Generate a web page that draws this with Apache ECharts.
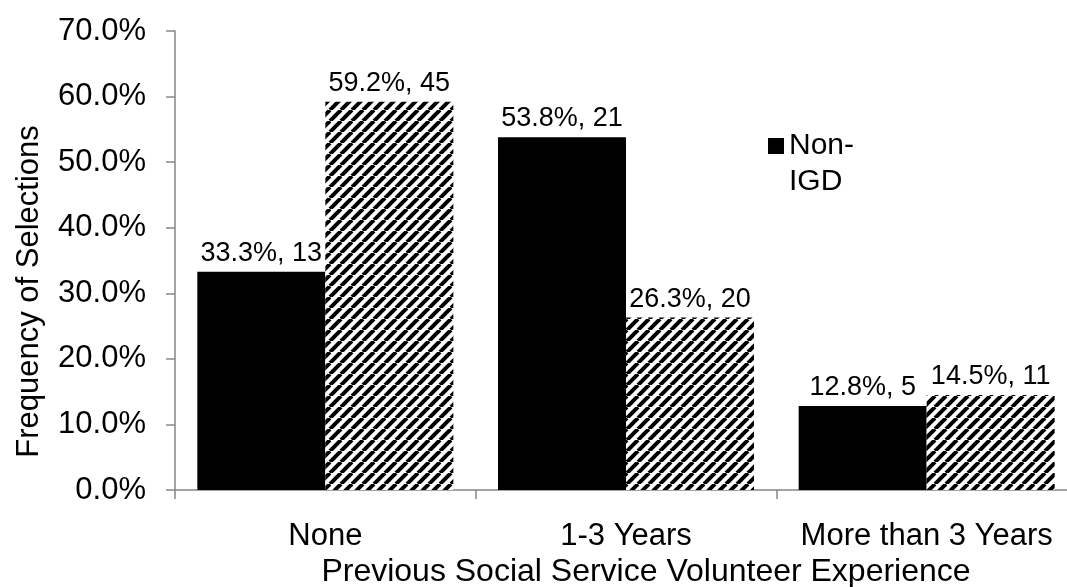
<!DOCTYPE html>
<html>
<head>
<meta charset="utf-8">
<script src="https://cdn.jsdelivr.net/npm/echarts@6/dist/echarts.min.js"></script>
<style>
  html, body { margin: 0; padding: 0; background: #fff; }
  #chart { width: 1067px; height: 587px; }
</style>
</head>
<body>
<div id="chart"></div>
<script>
// data
const categories = ['None', '1-3 Years', 'More than 3 Years']
const nonIgdPct = [33.3, 53.8, 12.8]
const nonIgdCount = [13, 21, 5]
const igdPct = [59.2, 26.3, 14.5]
const igdCount = [45, 20, 11]
const yTicks = [0, 10, 20, 30, 40, 50, 60, 70]

// diagonal hatch tile for the second series
function makeHatch() {
  const s = 11
  const c = document.createElement('canvas')
  c.width = s
  c.height = s
  const ctx = c.getContext('2d')
  ctx.fillStyle = '#fff'
  ctx.fillRect(0, 0, s, s)
  ctx.strokeStyle = '#000'
  ctx.lineWidth = 4
  ;[-s, 0, s].forEach(function (o) {
    ctx.beginPath()
    ctx.moveTo(o, s)
    ctx.lineTo(o + s, 0)
    ctx.stroke()
  })
  return c
}

const font = 'Liberation Sans, Arial, sans-serif'
const axisColor = '#868686'

const chart = echarts.init(document.getElementById('chart'))
const option = {
  animation: false,
  textStyle: { fontFamily: font, color: '#000' },
  // plot area runs past the right edge like the original crop
  grid: { left: 175, right: -10, top: 31, bottom: 97, containLabel: false, outerBoundsMode: 'none' },
  legend: {
    data: ['Non-IGD'],
    left: 768,
    top: 128,
    padding: 0,
    itemWidth: 16,
    itemHeight: 52,
    itemGap: 5,
    // square sits on the first text line
    icon: 'path://M0 0H16V16H0Z M0 51.9H0.1V52H0Z',
    formatter: function () { return 'Non-\nIGD' },
    textStyle: { fontSize: 30, lineHeight: 36, color: '#000', fontFamily: font }
  },
  xAxis: {
    type: 'category',
    data: categories,
    name: 'Previous Social Service Volunteer Experience',
    nameLocation: 'middle',
    nameGap: 66,
    nameMoveOverlap: false,
    nameTextStyle: { fontSize: 32, color: '#000', padding: [0, 0, 0, 40] },
    axisLine: { lineStyle: { color: axisColor, width: 1.5 } },
    axisTick: { show: true, length: 9, lineStyle: { color: axisColor, width: 1.5 } },
    axisLabel: { fontSize: 31, color: '#000', margin: 31, interval: 0, hideOverlap: false }
  },
  yAxis: {
    type: 'value',
    min: yTicks[0],
    max: yTicks[yTicks.length - 1],
    interval: 10,
    name: 'Frequency of Selections',
    nameLocation: 'middle',
    nameGap: 130,
    nameMoveOverlap: false,
    nameRotate: 90,
    nameTextStyle: { fontSize: 31, color: '#000', padding: [0, 62, 0, 0] },
    axisLine: { show: true, lineStyle: { color: axisColor, width: 1.5 } },
    axisTick: { show: true, length: 9, lineStyle: { color: axisColor, width: 1.5 } },
    axisLabel: {
      fontSize: 31,
      color: '#000',
      margin: 29,
      formatter: function (v) { return v.toFixed(1) + '%' }
    },
    splitLine: { show: false }
  },
  series: [
    {
      name: 'Non-IGD',
      type: 'bar',
      data: nonIgdPct,
      barWidth: 128,
      barGap: '0%',
      itemStyle: { color: '#000' },
      label: {
        show: true,
        position: 'top',
        distance: 5,
        fontSize: 27,
        color: '#000',
        formatter: function (p) { return p.value.toFixed(1) + '%, ' + nonIgdCount[p.dataIndex] }
      }
    },
    {
      name: 'IGD',
      type: 'bar',
      data: igdPct,
      barWidth: 128,
      barGap: '0%',
      itemStyle: { color: { image: makeHatch(), repeat: 'repeat' } },
      label: {
        show: true,
        position: 'top',
        distance: 5,
        fontSize: 27,
        color: '#000',
        formatter: function (p) { return p.value.toFixed(1) + '%, ' + igdCount[p.dataIndex] }
      }
    }
  ]
}
chart.setOption(option)
window.addEventListener('resize', function () { chart.resize() })
</script>
</body>
</html>
